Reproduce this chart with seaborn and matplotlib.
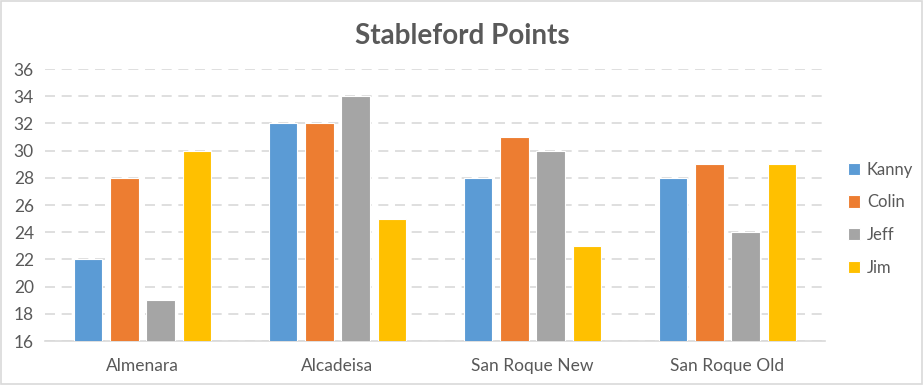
import matplotlib
matplotlib.use("Agg")
import matplotlib.pyplot as plt
import seaborn as sns
import pandas as pd
from matplotlib.patches import Rectangle

courses = ["Almenara", "Alcadeisa", "San Roque New", "San Roque Old"]
players = ["Kanny", "Colin", "Jeff", "Jim"]
kanny = [22, 32, 28, 28]
colin = [28, 32, 31, 29]
jeff = [19, 34, 30, 24]
jim = [30, 25, 23, 29]
colors = ["#5B9BD5", "#ED7D31", "#A5A5A5", "#FFC000"]
yticks = list(range(16, 37, 2))

rows = []
for p, vals in zip(players, [kanny, colin, jeff, jim]):
    for c, v in zip(courses, vals):
        rows.append({"Course": c, "Player": p, "Points": v})
df = pd.DataFrame(rows)

sns.set_theme(style="white")
plt.rcParams["font.family"] = ["Lato", "DejaVu Sans"]

fig = plt.figure(figsize=(9.24, 3.85), dpi=100)
ax = fig.add_axes([45/924, 44/385, 780/924, 272/385])

sns.barplot(data=df, x="Course", y="Points", hue="Player", order=courses,
            hue_order=players, palette=colors, saturation=1, width=0.74, gap=0.22,
            edgecolor="white", linewidth=0.8, ax=ax, zorder=3, errorbar=None)

ax.set_ylim(16, 36)
ax.set_xlim(-0.5, 3.5)
ax.set_yticks(yticks)
ax.yaxis.grid(True, linestyle=(0, (6, 4)), color="#D9D9D9", linewidth=1.2, zorder=0)
ax.set_axisbelow(True)
for s in ["left", "right", "top"]:
    ax.spines[s].set_visible(False)
ax.spines["bottom"].set_color("#D9D9D9")
ax.spines["bottom"].set_linewidth(1.2)
ax.tick_params(axis="both", length=0, colors="#595959", labelsize=12.5)
ax.tick_params(axis="x", pad=12)
ax.tick_params(axis="y", pad=8)
ax.set_xlabel("")
ax.set_ylabel("")

fig.suptitle("Stableford Points", x=0.5, y=0.94, fontsize=20,
             fontweight="bold", color="#595959")

handles, labels = ax.get_legend_handles_labels()
ax.legend(handles, labels, loc="center left", bbox_to_anchor=(1.01, 0.45),
          frameon=False, fontsize=12, labelcolor="#595959",
          handlelength=0.75, handleheight=0.75, handletextpad=0.4,
          labelspacing=1.0)

fig.patches.append(Rectangle((0.001, 0.002), 0.997, 0.995, transform=fig.transFigure,
                             fill=False, edgecolor="#D9D9D9", linewidth=1.2))

fig.savefig("out.png", dpi=100)
